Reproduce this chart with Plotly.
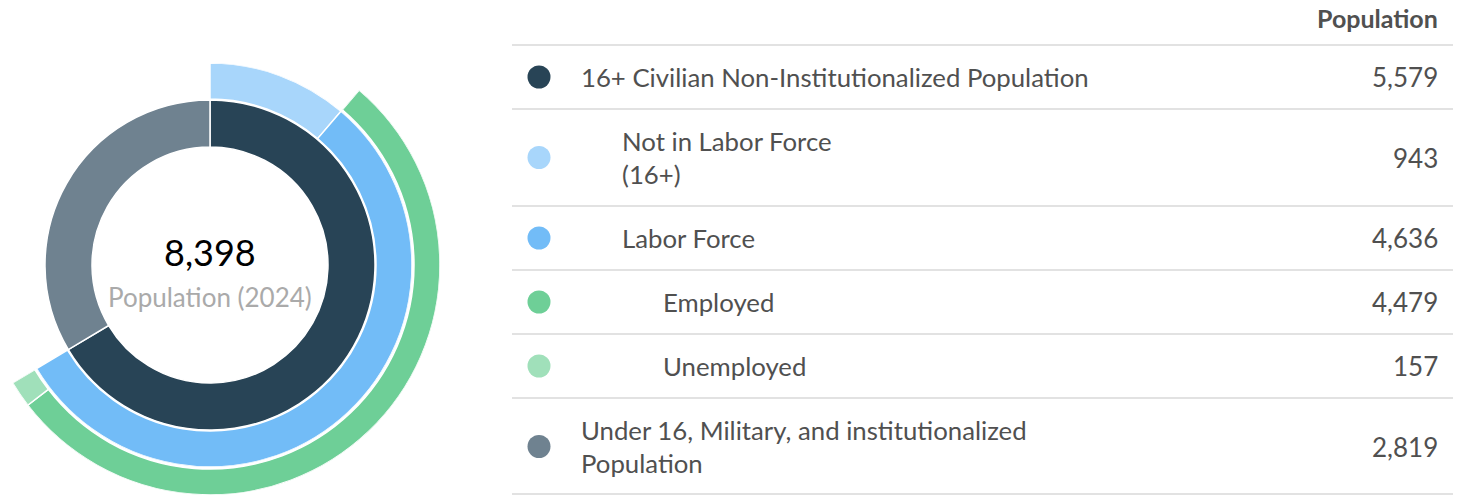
import math
import plotly.graph_objects as go

# ---------------- data ----------------
TOTAL = 8398
YEAR = 2024
labels = [
    "16+ Civilian Non-Institutionalized Population",
    "Not in Labor Force\n(16+)",
    "Labor Force",
    "Employed",
    "Unemployed",
    "Under 16, Military, and institutionalized\nPopulation",
]
values = [5579, 943, 4636, 4479, 157, 2819]
levels = [0, 1, 1, 2, 2, 0]
colors = ["#284456", "#a8d6fb", "#72bcf7", "#6ecf97", "#a0e0ba", "#6f8290"]
header = "Population"

# ring membership (indexes into the lists above)
ring1 = [0, 5]          # 16+ civilian, under 16
ring2 = [1, 2]          # not in labor force, labor force
ring3 = [3, 4]          # employed, unemployed (children of labor force)

# ---------------- layout constants ----------------
W, H = 1463, 495
FONT = "Lato"
cx, cy = 210, 265          # donut centre in pixels (from top-left)
R1 = 202                   # outer radius of polar 1 (rings 1-2)
R2 = 230                   # outer radius of polar 2 (ring 3)
ring_radii = {1: (118, 165), 2: (166, 202), 3: (204, 230)}


def segments(idxs, start_value):
    thetas, widths = [], []
    acc = start_value
    for i in idxs:
        a0 = acc / TOTAL * 360
        a1 = (acc + values[i]) / TOTAL * 360
        thetas.append((a0 + a1) / 2)
        widths.append(a1 - a0)
        acc += values[i]
    return thetas, widths


fig = go.Figure()

for ring, idxs, start, sub in [(1, ring1, 0, "polar"), (2, ring2, 0, "polar"),
                               (3, ring3, values[1], "polar2")]:
    th, wd = segments(idxs, start)
    b0, b1 = ring_radii[ring]
    fig.add_trace(go.Barpolar(
        theta=th, width=wd, r=[b1 - b0] * len(idxs), base=[b0] * len(idxs),
        marker=dict(color=[colors[i] for i in idxs], line=dict(color="white", width=1.5)),
        subplot=sub, hoverinfo="skip", showlegend=False,
    ))

# sector of outer ring (screen angles, ccw from east)
s_start = values[1] / TOTAL * 360
s_end = (values[1] + values[2]) / TOTAL * 360
sector = [90 - s_end, 90 - s_start]


def sector_bbox(sec):
    a0, a1 = sec
    pts = [(math.cos(math.radians(a0)), math.sin(math.radians(a0))),
           (math.cos(math.radians(a1)), math.sin(math.radians(a1))), (0.0, 0.0)]
    for k in range(-720, 721, 90):
        if a0 <= k <= a1:
            pts.append((round(math.cos(math.radians(k))), round(math.sin(math.radians(k)))))
    xs = [p[0] for p in pts]
    ys = [p[1] for p in pts]
    return min(xs), min(ys), max(xs), max(ys)


bx0, by0, bx1, by1 = sector_bbox(sector)


def clamp(v):
    return max(0.0, min(1.0, v))


common_ang = dict(rotation=90, direction="clockwise", visible=False)
fig.update_layout(
    polar=dict(
        domain=dict(x=[clamp((cx - R1) / W), clamp((cx + R1) / W)],
                    y=[clamp((H - cy - R1) / H), clamp((H - cy + R1) / H)]),
        bgcolor="rgba(0,0,0,0)", barmode="overlay", bargap=0, hole=0,
        angularaxis=common_ang,
        radialaxis=dict(range=[0, R1], visible=False),
    ),
    polar2=dict(
        domain=dict(x=[clamp((cx + bx0 * R2) / W), clamp((cx + bx1 * R2) / W)],
                    y=[clamp((H - cy + by0 * R2) / H), clamp((H - cy + by1 * R2) / H)]),
        sector=sector,
        bgcolor="rgba(0,0,0,0)", barmode="overlay", bargap=0, hole=0,
        angularaxis=common_ang,
        radialaxis=dict(range=[0, R2], visible=False),
    ),
)

# ---------------- table (pixel-space cartesian overlay) ----------------
TOP = 45
ROW1 = 64
LINE_H = 33
X_LINE0, X_LINE1 = 512, 1453
X_DOT = 539
X_TEXT = 579
INDENT = 41
X_VAL = 1440
TEXT_COLOR = "#505050"
LBL_SIZE = 25.75
VAL_SIZE = 26

bounds = [TOP]
centers = []
y = TOP
for lab in labels:
    n = len(lab.split("\n"))
    h = ROW1 + LINE_H * (n - 1)
    centers.append(y + h / 2)
    y += h
    bounds.append(y)
bounds[-1] = min(bounds[-1], H - 1)

fig.add_trace(go.Scatter(
    x=[X_DOT] * len(labels), y=centers, mode="markers",
    marker=dict(size=23, color=colors, line=dict(width=0)),
    hoverinfo="skip", showlegend=False, xaxis="x", yaxis="y",
))

shapes = []
for b in bounds:
    shapes.append(dict(type="line", xref="x", yref="y", x0=X_LINE0, x1=X_LINE1, y0=b, y1=b,
                       line=dict(color="#e2e2e2", width=2), layer="below"))

ann = []
ann.append(dict(x=X_VAL, y=18, xref="x", yref="y", text="<b>%s</b>" % header, showarrow=False,
                xanchor="right", yanchor="middle", font=dict(family=FONT, size=25, color=TEXT_COLOR)))
for lab, v, lev, c in zip(labels, values, levels, centers):
    lines = lab.split("\n")
    n = len(lines)
    for k, ln in enumerate(lines):
        ann.append(dict(x=X_TEXT + INDENT * lev, y=c + (k - (n - 1) / 2) * LINE_H, xref="x", yref="y",
                        text=ln, showarrow=False, xanchor="left", yanchor="middle",
                        font=dict(family=FONT, size=LBL_SIZE, color=TEXT_COLOR)))
    ann.append(dict(x=X_VAL, y=c, xref="x", yref="y", text=f"{v:,}", showarrow=False,
                    xanchor="right", yanchor="middle",
                    font=dict(family=FONT, size=VAL_SIZE, color=TEXT_COLOR)))

# centre labels
ann.append(dict(x=cx, y=252, xref="x", yref="y", text=f"{TOTAL:,}", showarrow=False,
                xanchor="center", yanchor="middle", font=dict(family=FONT, size=36, color="#000000")))
ann.append(dict(x=cx, y=297, xref="x", yref="y", text=f"Population ({YEAR})", showarrow=False,
                xanchor="center", yanchor="middle", font=dict(family=FONT, size=26, color="#aaaaaa")))

fig.update_layout(
    width=W, height=H,
    margin=dict(l=0, r=0, t=0, b=0),
    paper_bgcolor="white", plot_bgcolor="rgba(0,0,0,0)",
    xaxis=dict(range=[0, W], domain=[0, 1], visible=False, fixedrange=True),
    yaxis=dict(range=[H, 0], domain=[0, 1], visible=False, fixedrange=True),
    shapes=shapes, annotations=ann,
    font=dict(family=FONT),
    showlegend=False,
)

fig.write_html("out.html", config={"displayModeBar": False, "staticPlot": True},
               post_script="document.body.style.margin='0';document.body.style.overflow='hidden';")
